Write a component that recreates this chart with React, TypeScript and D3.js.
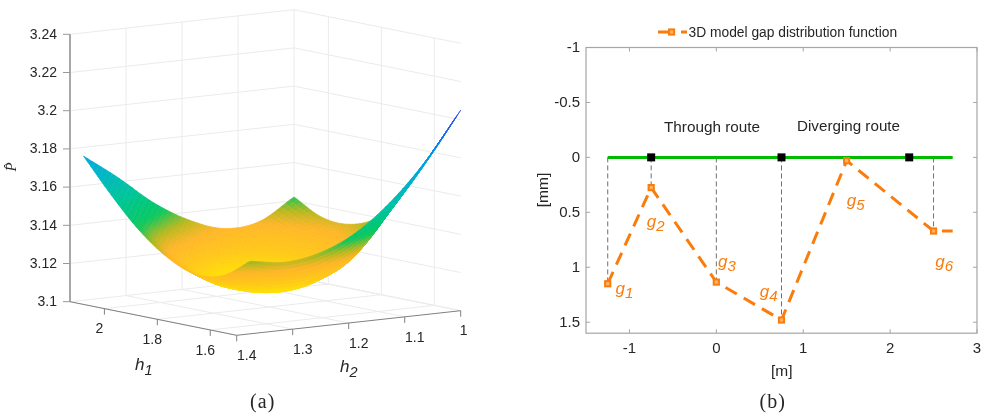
import React from "react";
import * as d3 from "d3";

// ---------- panel (a) data ----------
const h1Grid = [1.5, 1.605, 1.71, 1.815, 1.92, 2.025, 2.13];
const h2Grid = [1.0, 1.0627, 1.1253, 1.188, 1.2507, 1.3133, 1.376];
const pHat1 = [3.205, 3.1804, 3.161, 3.1467, 3.1385, 3.1355, 3.138];
const pHat2 = [3.1799, 3.157, 3.1345, 3.122, 3.117, 3.119, 3.1275];
const pHat3 = [3.157, 3.136, 3.1195, 3.1145, 3.113, 3.116, 3.1255];
const pHat4 = [3.14, 3.1285, 3.1195, 3.1135, 3.1135, 3.119, 3.1315];
const pHat5 = [3.1335, 3.1255, 3.1205, 3.117, 3.1195, 3.128, 3.1426];
const pHat6 = [3.1343, 3.1265, 3.1235, 3.1255, 3.132, 3.1435, 3.158];
const pHat7 = [3.142, 3.131, 3.1295, 3.136, 3.147, 3.162, 3.1755];
const pHatRows = [pHat1, pHat2, pHat3, pHat4, pHat5, pHat6, pHat7];
const zTicks = [3.1, 3.12, 3.14, 3.16, 3.18, 3.2, 3.22, 3.24];
const h1Ticks = [1.6, 1.8, 2];
const h2Ticks = [1, 1.1, 1.2, 1.3, 1.4];
const colorStops = [3.114, 3.122, 3.13, 3.136, 3.143, 3.155, 3.168, 3.182, 3.195, 3.206];
const colorValues = ["#ffe600", "#ffc81a", "#ffb62a", "#b8b820", "#08c860", "#00c49a", "#00b4cc", "#0098e8", "#1e60f0", "#3434e8"];

// ---------- panel (b) data ----------
const gapX = [-1.25, -0.75, 0, 0.75, 1.5, 2.5, 2.72];
const gapY = [1.15, 0.275, 1.135, 1.48, 0.03, 0.67, 0.67];
const markerCount = 6;
const sleeperX = [-0.75, 0.75, 2.22];
const railX = [-1.25, 2.72];
const xTicksB = [-1, 0, 1, 2, 3];
const yTicksB = [-1, -0.5, 0, 0.5, 1, 1.5];
const gapLabels = ["1", "2", "3", "4", "5", "6"];
const gapLabelX = [-1.16, -0.8, 0.02, 0.5, 1.5, 2.52];
const gapLabelY = [1.24, 0.63, 1.0, 1.27, 0.44, 1.0];

// ---------- projection (a): orthographic box ----------
const h1X = d3.scaleLinear().domain([1.5, 2.13]).range([0, -166.7]);
const h1Yo = d3.scaleLinear().domain([1.5, 2.13]).range([0, -33.6]);
const h2X = d3.scaleLinear().domain([1.4, 1]).range([0, 224]);
const h2Yo = d3.scaleLinear().domain([1.4, 1]).range([0, -24.6]);
const zY = d3.scaleLinear().domain([3.1, 3.24]).range([0, -267.4]);
const ox = 236.7;
const oy = 335.3;
const proj = (h1: number, h2: number, z: number): [number, number] => [
  ox + h1X(h1) + h2X(h2),
  oy + h1Yo(h1) + h2Yo(h2) + zY(z),
];
const color = d3.scaleLinear<string>().domain(colorStops).range(colorValues).clamp(true);

function cr(p0: number, p1: number, p2: number, p3: number, t: number) {
  return 0.5 * (2 * p1 + (p2 - p0) * t + (2 * p0 - 5 * p1 + 4 * p2 - p3) * t * t + (3 * p1 - p0 - 3 * p2 + p3) * t * t * t);
}
function at(i: number, j: number) {
  const n = pHatRows.length - 1;
  const m = pHatRows[0].length - 1;
  const ii = Math.max(0, Math.min(n, i));
  const jj = Math.max(0, Math.min(m, j));
  let v = pHatRows[ii][jj];
  if (i < 0) v += pHatRows[0][jj] - pHatRows[1][jj];
  if (i > n) v += pHatRows[n][jj] - pHatRows[n - 1][jj];
  if (j < 0) v += pHatRows[ii][0] - pHatRows[ii][1];
  if (j > m) v += pHatRows[ii][m] - pHatRows[ii][m - 1];
  return v;
}
function surf(a: number, b: number) {
  const i = Math.min(Math.floor(a), pHatRows.length - 2);
  const j = Math.min(Math.floor(b), pHatRows[0].length - 2);
  const s = a - i;
  const t = b - j;
  const r = [-1, 0, 1, 2].map((di) =>
    cr(at(i + di, j - 1), at(i + di, j), at(i + di, j + 1), at(i + di, j + 2), t)
  );
  return cr(r[0], r[1], r[2], r[3], s);
}

const SUB = 8;
function buildQuads() {
  const nA = h1Grid.length - 1;
  const nB = h2Grid.length - 1;
  const h1s = d3.scaleLinear().domain([0, nA]).range([h1Grid[0], h1Grid[nA]]);
  const h2s = d3.scaleLinear().domain([0, nB]).range([h2Grid[0], h2Grid[nB]]);
  const quads: { d: string; c: string; depth: number }[] = [];
  const eps = 1 / SUB;
  for (let a = 0; a < nA - 1e-6; a += eps) {
    for (let b = 0; b < nB - 1e-6; b += eps) {
      const corners: [number, number][] = [[a, b], [a + eps, b], [a + eps, b + eps], [a, b + eps]];
      const zs = corners.map(([p, q]) => surf(p, q));
      const pts = corners.map(([p, q], k) => proj(h1s(p), h2s(q), zs[k]));
      const zm = d3.mean(zs) as number;
      const cA = h1s(a + eps / 2);
      const cB = h2s(b + eps / 2);
      const base = oy + h1Yo(cA) + h2Yo(cB);
      const depth = -zY(zm) * 0.15 + base / 0.15;
      quads.push({ d: "M" + pts.map((p) => p.join(",")).join("L") + "Z", c: color(zm), depth });
    }
  }
  return quads.sort((x, y) => x.depth - y.depth);
}

// ---------- scales (b) ----------
const xB = d3.scaleLinear().domain([-1.5, 3]).range([586, 977]);
const yB = d3.scaleLinear().domain([-1, 1.6]).range([47.5, 333.2]);
const orange = "#f97c0c";
const inkColor = "#262626";
const sans = "'Liberation Sans', Arial, sans-serif";

const PanelA = () => {
  const quads = React.useMemo(buildQuads, []);
  const grid = "#ebebeb";
  const h1Min = 1.5, h1Max = 2.13, h2Min = 1, h2Max = 1.4, zMin = 3.1, zMax = 3.24;
  const seg = (a: [number, number], b: [number, number], k: string, stroke = grid, w = 1) => (
    <line key={k} x1={a[0]} y1={a[1]} x2={b[0]} y2={b[1]} stroke={stroke} strokeWidth={w} />
  );
  return (
    <g fontFamily={sans} fill={inkColor}>
      {zTicks.map((z) => (
        <g key={z}>
          {seg(proj(h1Max, h2Max, z), proj(h1Max, h2Min, z), "l" + z)}
          {seg(proj(h1Max, h2Min, z), proj(h1Min, h2Min, z), "r" + z)}
        </g>
      ))}
      {h2Ticks.map((h) => (
        <g key={h}>
          {seg(proj(h1Max, h, zMin), proj(h1Max, h, zMax), "v" + h)}
          {seg(proj(h1Min, h, zMin), proj(h1Max, h, zMin), "f" + h)}
        </g>
      ))}
      {h1Ticks.map((h) => (
        <g key={h}>
          {seg(proj(h, h2Min, zMin), proj(h, h2Min, zMax), "w" + h)}
          {seg(proj(h, h2Max, zMin), proj(h, h2Min, zMin), "g" + h)}
        </g>
      ))}
      {quads.map((q, i) => (
        <path key={i} d={q.d} fill={q.c} stroke={q.c} strokeWidth={0.7} />
      ))}
      {seg(proj(h1Max, h2Max, zMin), proj(h1Max, h2Max, zMax), "zaxis", "#a8a8a8", 2)}
      {seg(proj(h1Max, h2Max, zMin), proj(h1Min, h2Max, zMin), "h1axis", "#808080", 1)}
      {seg(proj(h1Min, h2Max, zMin), proj(h1Min, h2Min, zMin), "h2axis", "#808080", 1)}
      {zTicks.map((z) => {
        const p = proj(h1Max, h2Max, z);
        return (
          <g key={z}>
            <line x1={p[0] - 7} y1={p[1]} x2={p[0]} y2={p[1]} stroke="#999" />
            <text x={p[0] - 13} y={p[1] + 0.5} fontSize={14} textAnchor="end" dominantBaseline="middle">{z}</text>
          </g>
        );
      })}
      {h1Ticks.map((h) => {
        const p = proj(h, h2Max, zMin);
        return (
          <g key={h}>
            <line x1={p[0]} y1={p[1]} x2={p[0]} y2={p[1] + 6} stroke="#808080" />
            <text x={p[0] - 5} y={p[1] + 21} fontSize={14} textAnchor="middle" dominantBaseline="middle">{h}</text>
          </g>
        );
      })}
      {h2Ticks.map((h) => {
        const p = proj(h1Min, h, zMin);
        return (
          <g key={h}>
            <line x1={p[0]} y1={p[1]} x2={p[0]} y2={p[1] + 6} stroke="#808080" />
            <text x={p[0] + 10 - (h === 1 ? 7 : 0)} y={p[1] + 21} fontSize={14} textAnchor="middle" dominantBaseline="middle">{h}</text>
          </g>
        );
      })}
      <text x={135} y={370} fontSize={17} fontStyle="italic">h<tspan dy={5} fontSize={14.5}>1</tspan></text>
      <text x={340} y={372} fontSize={17} fontStyle="italic">h<tspan dy={5} fontSize={14.5}>2</tspan></text>
      <text transform="translate(16,167) rotate(-90)" fontSize={15} fontStyle="italic" fontFamily="'Liberation Serif', serif" textAnchor="middle">P̂</text>
      <text x={262.7} y={408} fontSize={20} letterSpacing={1} fontFamily="'Liberation Serif', serif" textAnchor="middle">(a)</text>
    </g>
  );
};

const PanelB = () => {
  const box = "#a6a6a6";
  const line = d3.line<number>().x((v) => xB(v)).y((_, i) => yB(gapY[i]));
  const markers = gapX.slice(0, markerCount);
  return (
    <g fontFamily={sans} fill={inkColor}>
      <rect x={xB(-1.5)} y={yB(-1)} width={xB(3) - xB(-1.5)} height={yB(1.6) - yB(-1)} fill="none" stroke={box} strokeWidth={1.2} />
      {xTicksB.map((t) => (
        <g key={t}>
          <line x1={xB(t)} x2={xB(t)} y1={yB(-1)} y2={yB(-1) + 4} stroke={box} />
          <line x1={xB(t)} x2={xB(t)} y1={yB(1.6)} y2={yB(1.6) - 4} stroke={box} />
          <text x={xB(t)} y={349.5} fontSize={15} textAnchor="middle" dominantBaseline="middle">{t}</text>
        </g>
      ))}
      {yTicksB.map((t) => (
        <g key={t}>
          <line x1={xB(-1.5)} x2={xB(-1.5) + 4} y1={yB(t)} y2={yB(t)} stroke={box} />
          <line x1={xB(3)} x2={xB(3) - 4} y1={yB(t)} y2={yB(t)} stroke={box} />
          <text x={xB(-1.5) - 6} y={yB(t) + 0.5} fontSize={15} textAnchor="end" dominantBaseline="middle">{t}</text>
        </g>
      ))}
      {markers.map((x, i) => (
        <line key={i} x1={xB(x)} x2={xB(x)} y1={yB(0)} y2={yB(gapY[i])} stroke="#707070" strokeWidth={1} strokeDasharray="5 3" />
      ))}
      <line x1={xB(railX[0])} x2={xB(railX[1])} y1={yB(0)} y2={yB(0)} stroke="#00bb00" strokeWidth={3} />
      {sleeperX.map((x) => (
        <rect key={x} x={xB(x) - 4} y={yB(0) - 4} width={8} height={8} fill="#000" />
      ))}
      <path d={line(gapX) as string} fill="none" stroke={orange} strokeWidth={3} strokeDasharray="13 8" />
      {markers.map((x, i) => (
        <rect key={i} x={xB(x) - 2.6} y={yB(gapY[i]) - 2.6} width={5.2} height={5.2} fill="#ffb468" stroke={orange} strokeWidth={2} />
      ))}
      {gapLabels.map((l, i) => (
        <text key={l} x={xB(gapLabelX[i])} y={yB(gapLabelY[i])} fill={orange} fontSize={17} fontStyle="italic">
          g<tspan dy={4} fontSize={15}>{l}</tspan>
        </text>
      ))}
      <text x={664} y={131.5} fontSize={15.3}>Through route</text>
      <text x={797} y={130.5} fontSize={15.2}>Diverging route</text>
      <line x1={658} x2={675} y1={32} y2={32} stroke={orange} strokeWidth={3} />
      <line x1={681} x2={687} y1={32} y2={32} stroke={orange} strokeWidth={3} />
      <rect x={669} y={29.4} width={5.2} height={5.2} fill="#ffb468" stroke={orange} strokeWidth={2} />
      <text x={688.5} y={36.7} fontSize={13.8}>3D model gap distribution function</text>
      <text x={781.7} y={376} fontSize={15.5} textAnchor="middle">[m]</text>
      <text transform="translate(548,190) rotate(-90)" fontSize={15.5} textAnchor="middle">[mm]</text>
      <text x={772.7} y={408} fontSize={20} letterSpacing={1} fontFamily="'Liberation Serif', serif" textAnchor="middle">(b)</text>
    </g>
  );
};

export default function App() {
  return (
    <svg width={987} height={419} viewBox="0 0 987 419" style={{ position: "absolute", left: 0, top: 0, background: "#fff" }}>
      <defs>
        <filter id="soft" x="0" y="0" width="100%" height="100%">
          <feGaussianBlur stdDeviation="0.45" />
        </filter>
      </defs>
      <g filter="url(#soft)">
        <rect width={987} height={419} fill="#fff" />
        <PanelA />
        <PanelB />
      </g>
    </svg>
  );
}
